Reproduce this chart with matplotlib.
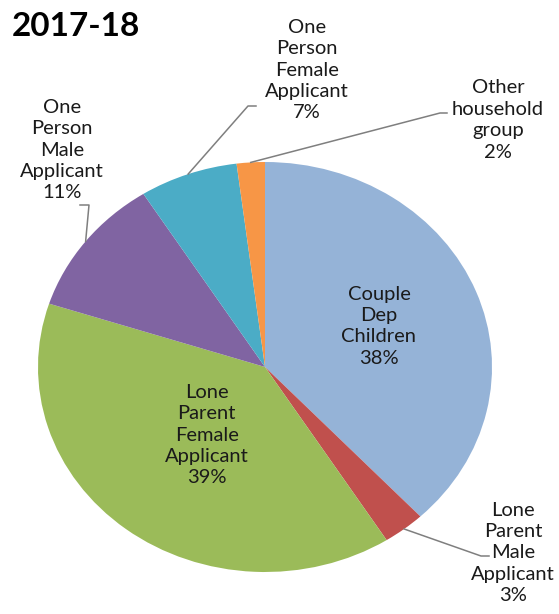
import numpy as np
import matplotlib
matplotlib.use('Agg')
import matplotlib.pyplot as plt

# Data
labels = ['Couple\nDep\nChildren', 'Lone\nParent\nMale\nApplicant', 'Lone\nParent\nFemale\nApplicant',
          'One\nPerson\nMale\nApplicant', 'One\nPerson\nFemale\nApplicant', 'Other\nhousehold\ngroup']
shares = [38, 3, 39, 11, 7, 2]
colors = ['#95B3D7', '#C0504D', '#9BBB59', '#8064A2', '#4BACC6', '#F79646']

plt.rcParams['font.family'] = ['Lato', 'DejaVu Sans']

W, H = 559, 614
fig = plt.figure(figsize=(W / 100, H / 100), dpi=100)
fig.patch.set_facecolor('white')

# pie is drawn slightly squashed, like the source image
ax = fig.add_axes([38 / W, 42 / H, 454 / W, 410 / H])
wedges, _ = ax.pie(shares, colors=colors, startangle=90, counterclock=False,
                   radius=1, wedgeprops=dict(linewidth=0))
ax.set_xlim(-1, 1)
ax.set_ylim(-1, 1)
ax.set_aspect('auto')
ax.axis('off')

fs = 14.5
txt_color = '#1a1a1a'
fig.text(12 / W, 1 - 26 / H, '2017-18', fontsize=24, fontweight='bold', va='center', ha='left')


def mid(w):
    a = np.deg2rad((w.theta1 + w.theta2) / 2)
    return np.cos(a), np.sin(a)


# labels inside the two big slices
for i, r in [(0, 0.54), (2, 0.42)]:
    cx, cy = mid(wedges[i])
    ax.text(r * cx, r * cy, '%s\n%d%%' % (labels[i], shares[i]), ha='center', va='center',
            fontsize=fs, linespacing=1.32, color=txt_color)

# outside labels with leader lines (text position, elbow, line end in pixels from top-left)
outside = {
    1: ((513, 553), (481, 556), (489, 556)),
    3: ((62, 150), (89, 205), (80, 205)),
    4: ((307, 70), (248, 106), (256, 106)),
    5: ((498, 120), (440, 113), (447, 113)),
}
to_data = ax.transData.inverted()
for i, (tpos, elbow, end) in outside.items():
    cx, cy = mid(wedges[i])
    fig.text(tpos[0] / W, 1 - tpos[1] / H, '%s\n%d%%' % (labels[i], shares[i]), ha='center',
             va='center', fontsize=fs, linespacing=1.32, color=txt_color)
    pts = [to_data.transform(fig.transFigure.transform((p[0] / W, 1 - p[1] / H))) for p in (elbow, end)]
    xs = [cx, pts[0][0], pts[1][0]]
    ys = [cy, pts[0][1], pts[1][1]]
    ax.plot(xs, ys, color='#7f7f7f', lw=1.1, clip_on=False)

fig.savefig('out.png', dpi=100)
